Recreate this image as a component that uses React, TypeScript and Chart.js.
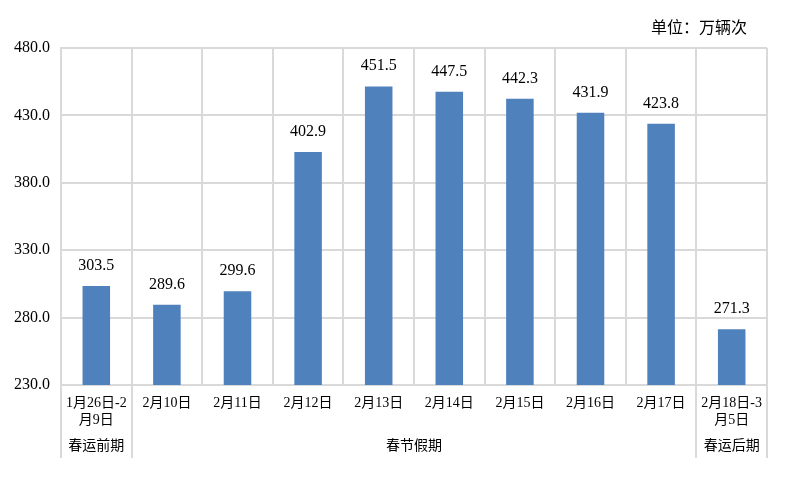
import React, { useEffect, useRef } from "react";
import { Chart, registerables } from "chart.js";

Chart.register(...registerables);

const categories: (string | string[])[] = [
  ["1月26日-2", "月9日"],
  "2月10日",
  "2月11日",
  "2月12日",
  "2月13日",
  "2月14日",
  "2月15日",
  "2月16日",
  "2月17日",
  ["2月18日-3", "月5日"],
];
const values = [303.5, 289.6, 299.6, 402.9, 451.5, 447.5, 442.3, 431.9, 423.8, 271.3];
const groups = [
  { label: "春运前期", from: 0, to: 0 },
  { label: "春节假期", from: 1, to: 8 },
  { label: "春运后期", from: 9, to: 9 },
];
const unitLabel = "单位：万辆次";
const yMin = 230;
const yMax = 480;
const yStep = 50;

const FONT = '"Liberation Serif", "Times New Roman", "Noto Sans CJK SC", serif';
const GRID = "#d9d9d9";

const extrasPlugin = {
  id: "extras",
  afterDraw(chart: any) {
    const { ctx, chartArea, scales } = chart;
    const x = scales.x;
    const half = (x.getPixelForValue(1) - x.getPixelForValue(0)) / 2;
    const edge = (i: number) => x.getPixelForValue(i) - half;
    ctx.save();
    ctx.strokeStyle = GRID;
    ctx.lineWidth = 2;
    const seps = new Set<number>();
    groups.forEach((g) => {
      seps.add(g.from);
      seps.add(g.to + 1);
    });
    seps.forEach((i) => {
      const px = Math.round(edge(i));
      ctx.beginPath();
      ctx.moveTo(px, chartArea.bottom);
      ctx.lineTo(px, chartArea.bottom + 73);
      ctx.stroke();
    });
    ctx.fillStyle = "#000";
    ctx.font = `14px ${FONT}`;
    ctx.textAlign = "center";
    ctx.textBaseline = "middle";
    groups.forEach((g) => {
      const cx = (edge(g.from) + edge(g.to + 1)) / 2;
      ctx.fillText(g.label, cx, chartArea.bottom + 61);
    });
    ctx.font = `16px ${FONT}`;
    ctx.textBaseline = "alphabetic";
    const meta = chart.getDatasetMeta(0);
    meta.data.forEach((bar: any, i: number) => {
      ctx.fillText(values[i].toFixed(1), bar.x, bar.y - 16);
    });
    ctx.textAlign = "right";
    ctx.textBaseline = "middle";
    ctx.fillText(unitLabel, 747, 29);
    ctx.restore();
  },
};

export default function App() {
  const ref = useRef<HTMLCanvasElement>(null);
  useEffect(() => {
    document.body.style.margin = "0";
    const chart = new Chart(ref.current!, {
      type: "bar",
      data: {
        labels: categories,
        datasets: [
          {
            data: values,
            backgroundColor: "#4f81bd",
            barPercentage: 0.39,
            categoryPercentage: 1,
          },
        ],
      },
      options: {
        animation: false,
        responsive: false,
        devicePixelRatio: 1,
        layout: { padding: { top: 48, right: 23, left: 0, bottom: 0 } },
        plugins: { legend: { display: false }, tooltip: { enabled: false } },
        scales: {
          x: {
            grid: { color: GRID, lineWidth: 2, offset: true, drawTicks: false },
            border: { color: GRID, width: 2 },
            ticks: {
              color: "#000",
              font: { family: FONT, size: 14 },
              padding: 10,
              maxRotation: 0,
              autoSkip: false,
            },
            afterFit: (s: any) => {
              s.height = 103;
            },
          },
          y: {
            min: yMin,
            max: yMax,
            grid: { color: GRID, lineWidth: 2, drawTicks: false },
            border: { color: GRID, width: 2 },
            ticks: {
              stepSize: yStep,
              color: "#000",
              font: { family: FONT, size: 16 },
              padding: 11,
              callback: (v: any) => Number(v).toFixed(1),
            },
            afterFit: (s: any) => {
              s.width = 61;
            },
          },
        },
      },
      plugins: [extrasPlugin],
    });
    return () => chart.destroy();
  }, []);
  return <canvas ref={ref} width={790} height={488} style={{ display: "block" }} />;
}
